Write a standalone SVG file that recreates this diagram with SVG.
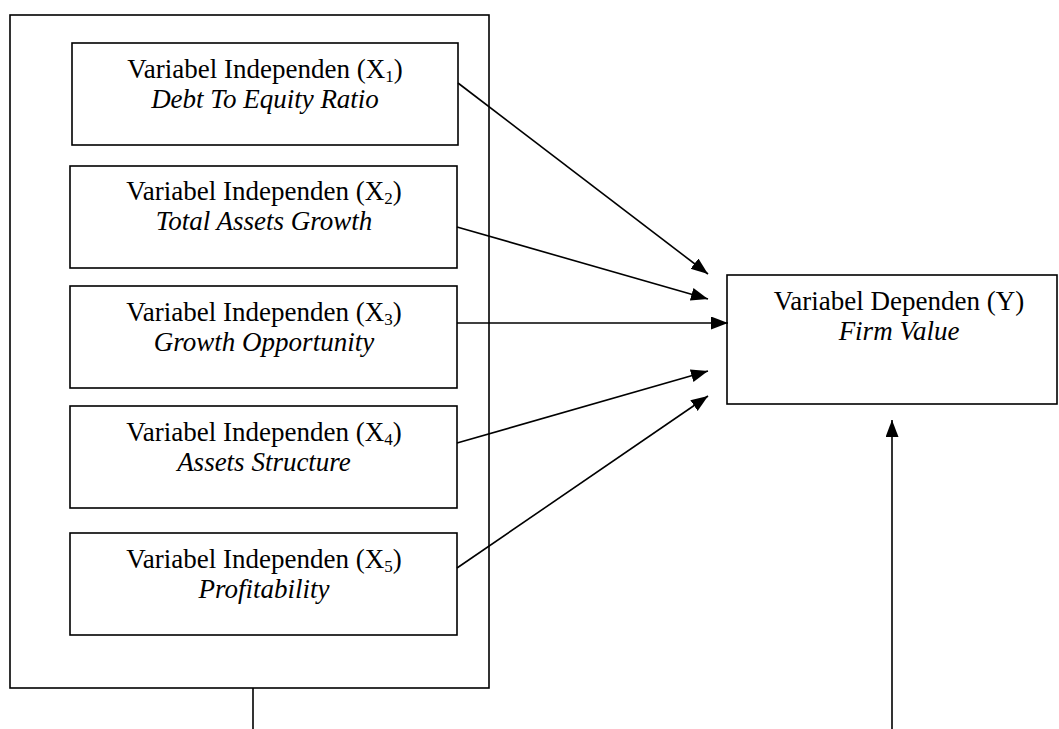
<svg xmlns="http://www.w3.org/2000/svg" width="1059" height="729" viewBox="0 0 1059 729">
<style>
.box{fill:#fff;stroke:#000;stroke-width:1.6}
.t{font-family:"Liberation Serif","Times New Roman",serif;font-size:27px;fill:#000;text-anchor:middle}
.i{font-style:italic}
.sub{font-size:17px}
.c{stroke:#000;stroke-width:1.6;fill:none}
</style>
<defs>
<marker id="ah" markerUnits="userSpaceOnUse" markerWidth="18" markerHeight="14" refX="17" refY="6.5" orient="auto">
<path d="M0,0 L17,6.5 L0,13 z" fill="#000"/>
</marker>
</defs>
<g id="outer"><rect class="box" x="10" y="15" width="479" height="673"/></g>
<g id="x1"><rect class="box" x="72" y="43" width="386" height="102"/>
<text class="t" x="265" y="78">Variabel Independen (X<tspan class="sub" dy="4">1</tspan><tspan dy="-4">)</tspan></text>
<text class="t i" x="265" y="108">Debt To Equity Ratio</text></g>
<g id="x2"><rect class="box" x="70" y="166" width="387" height="102"/>
<text class="t" x="264" y="200">Variabel Independen (X<tspan class="sub" dy="4">2</tspan><tspan dy="-4">)</tspan></text>
<text class="t i" x="264" y="230">Total Assets Growth</text></g>
<g id="x3"><rect class="box" x="70" y="286" width="387" height="102"/>
<text class="t" x="264" y="321">Variabel Independen (X<tspan class="sub" dy="4">3</tspan><tspan dy="-4">)</tspan></text>
<text class="t i" x="264" y="351">Growth Opportunity</text></g>
<g id="x4"><rect class="box" x="70" y="406" width="387" height="102"/>
<text class="t" x="264" y="441">Variabel Independen (X<tspan class="sub" dy="4">4</tspan><tspan dy="-4">)</tspan></text>
<text class="t i" x="264" y="471">Assets Structure</text></g>
<g id="x5"><rect class="box" x="70" y="533" width="387" height="102"/>
<text class="t" x="264" y="568">Variabel Independen (X<tspan class="sub" dy="4">5</tspan><tspan dy="-4">)</tspan></text>
<text class="t i" x="264" y="598">Profitability</text></g>
<g id="y"><rect class="box" x="727" y="275" width="330" height="129"/>
<text class="t" x="899" y="310">Variabel Dependen (Y)</text>
<text class="t i" x="899" y="340">Firm Value</text></g>
<g id="connectors">
<line class="c" x1="458" y1="83" x2="708" y2="274" marker-end="url(#ah)"/>
<line class="c" x1="457" y1="227" x2="708" y2="299" marker-end="url(#ah)"/>
<line class="c" x1="457" y1="323" x2="728" y2="323" marker-end="url(#ah)"/>
<line class="c" x1="457" y1="443" x2="708" y2="371" marker-end="url(#ah)"/>
<line class="c" x1="457" y1="568" x2="708" y2="396" marker-end="url(#ah)"/>
<line class="c" x1="253" y1="688" x2="253" y2="729"/>
<line class="c" x1="892" y1="729" x2="892" y2="420" marker-end="url(#ah)"/>
</g>
</svg>
